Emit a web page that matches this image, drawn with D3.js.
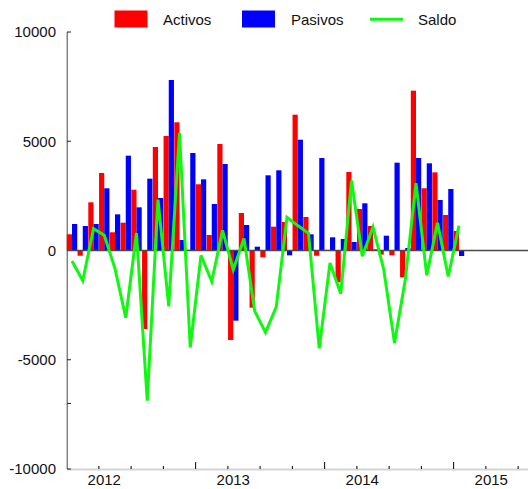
<!DOCTYPE html>
<html>
<head>
<meta charset="utf-8">
<script src="https://cdn.jsdelivr.net/npm/d3@7"></script>
<style>
body { margin: 0; background: #fff; }
text { font-family: "Liberation Sans", Arial, sans-serif; }
</style>
</head>
<body>
<div id="chart"></div>
<script>
// months from oct 2011 to oct 2014
var months = ["2011-10","2011-11","2011-12","2012-01","2012-02","2012-03","2012-04","2012-05","2012-06",
  "2012-07","2012-08","2012-09","2012-10","2012-11","2012-12","2013-01","2013-02","2013-03","2013-04",
  "2013-05","2013-06","2013-07","2013-08","2013-09","2013-10","2013-11","2013-12","2014-01","2014-02",
  "2014-03","2014-04","2014-05","2014-06","2014-07","2014-08","2014-09","2014-10"];

var activos = [740, -240, 2205, 3547, 833, 1273, 2783, -3593, 4737, 5240, 5867, 30, 3030, 709, 4874, -4096,
  1716, -2617, -311, 1090, 1304, 6215, 1533, -240, 30, -1455, 3593, 1899, 1121, -190, -220, -1228, 7315,
  2847, 3577, 1625, 892];

var pasivos = [1213, 1121, 1213, 2847, 1655, 4340, 1976, 3288, 2403, 7803, 480, 4462, 3257, 2128, 3959, -3212,
  1167, 175, 3441, 3670, -220, 5071, 740, 4233, 604, 526, 389, 2160, 50, 678, 4019, 114, 4233,
  3990, 2311, 2815, -252];

var saldo = [-480, -1380, 1000, 700, -830, -3080, 800, -6870, 2330, -2560, 5380, -4440, -220, -1420, 920, -880,
  550, -2780, -3750, -2580, 1520, 1140, 790, -4480, -570, -1980, 3200, -260, 1070, -870, -4240, -1340, 3080,
  -1140, 1270, -1190, 1140];

var yLabels = [10000, 5000, 0, -5000, -10000];
var yTicks = [10000, 5000, -5000, -7000, -10000];
var years = ["2012", "2013", "2014", "2015"];

var width = 528, height = 489;

var svg = d3.select("#chart").append("svg")
    .attr("width", width)
    .attr("height", height);

// month index -> pixel
var x = d3.scaleLinear()
    .domain([0, months.length - 1])
    .range([72, 459]);

var y = d3.scaleLinear()
    .domain([-10000, 10000])
    .range([469, 32]);

var barW = 5.2;

// x axis line (light gray)
svg.append("line")
    .attr("x1", 67).attr("x2", width)
    .attr("y1", y(-10000) + 0.5).attr("y2", y(-10000) + 0.5)
    .style("stroke", "#d4d4d4")
    .style("stroke-width", 2);

// quarter ticks on x
var qTicks = d3.range(0, 14).map(function(k){ return 2.5 + 3 * k; });
svg.selectAll(".xtick")
    .data(qTicks)
    .enter().append("line")
    .attr("class", "xtick")
    .attr("x1", function(d){ return x(d); })
    .attr("x2", function(d){ return x(d); })
    .attr("y1", y(-10000))
    .attr("y2", function(d){ return ((d - 11.5) % 12 == 0) ? y(-10000) - 7 : y(-10000) - 3; })
    .style("stroke", "#000")
    .style("stroke-width", 1);

svg.selectAll(".year")
    .data(years)
    .enter().append("text")
    .attr("class", "year")
    .attr("x", function(d, i){ return x(3 + 12 * i); })
    .attr("y", 485)
    .attr("text-anchor", "middle")
    .style("font-size", "15px")
    .style("fill", "#111")
    .text(function(d){ return d; });

// y axis
svg.append("line")
    .attr("x1", 67.3).attr("x2", 67.3)
    .attr("y1", y(10000)).attr("y2", y(-10000))
    .style("stroke", "#808080")
    .style("stroke-width", 1.5);

svg.selectAll(".ytick")
    .data(yTicks)
    .enter().append("line")
    .attr("class", "ytick")
    .attr("x1", 67)
    .attr("x2", 71)
    .attr("y1", function(d){ return y(d); })
    .attr("y2", function(d){ return y(d); })
    .style("stroke", "#222")
    .style("stroke-width", 1);

svg.selectAll(".ylabel")
    .data(yLabels)
    .enter().append("text")
    .attr("class", "ylabel")
    .attr("x", 56)
    .attr("y", function(d){ return y(d); })
    .attr("dy", "0.35em")
    .attr("text-anchor", "end")
    .style("font-size", "15px")
    .style("fill", "#111")
    .text(function(d){ return d; });

// bars
svg.selectAll(".activo")
    .data(activos)
    .enter().append("rect")
    .attr("class", "activo")
    .attr("x", function(d, i){ return x(i) - barW; })
    .attr("width", barW)
    .attr("y", function(d){ return y(Math.max(0, d)); })
    .attr("height", function(d){ return Math.abs(y(d) - y(0)); })
    .style("fill", "#ff0000");

svg.selectAll(".pasivo")
    .data(pasivos)
    .enter().append("rect")
    .attr("class", "pasivo")
    .attr("x", function(d, i){ return x(i); })
    .attr("width", barW)
    .attr("y", function(d){ return y(Math.max(0, d)); })
    .attr("height", function(d){ return Math.abs(y(d) - y(0)); })
    .style("fill", "#0000ff");

// zero line
svg.append("line")
    .attr("x1", 67).attr("x2", width)
    .attr("y1", y(0)).attr("y2", y(0))
    .style("stroke", "#4a4a4a")
    .style("stroke-width", 1.5);

// saldo line
var line = d3.line()
    .x(function(d, i){ return x(i); })
    .y(function(d){ return y(d); });

svg.append("path")
    .datum(saldo)
    .attr("d", line)
    .style("fill", "none")
    .style("stroke", "#11f711")
    .style("stroke-width", 3)
    .style("stroke-linejoin", "miter");

// legend
var legend = svg.append("g");
legend.append("rect").attr("x", 114.5).attr("y", 10.5).attr("width", 33).attr("height", 17).style("fill", "#ff0000");
legend.append("text").attr("x", 163).attr("y", 24.5).style("font-size", "15px").style("fill", "#111").text("Activos");
legend.append("rect").attr("x", 242).attr("y", 10.5).attr("width", 33).attr("height", 17).style("fill", "#0000ff");
legend.append("text").attr("x", 291).attr("y", 24.5).style("font-size", "15px").style("fill", "#111").text("Pasivos");
legend.append("line").attr("x1", 370).attr("x2", 403).attr("y1", 19.3).attr("y2", 19.3)
    .style("stroke", "#11f711").style("stroke-width", 3);
legend.append("text").attr("x", 418).attr("y", 24.5).style("font-size", "15px").style("fill", "#111").text("Saldo");
</script>
</body>
</html>
